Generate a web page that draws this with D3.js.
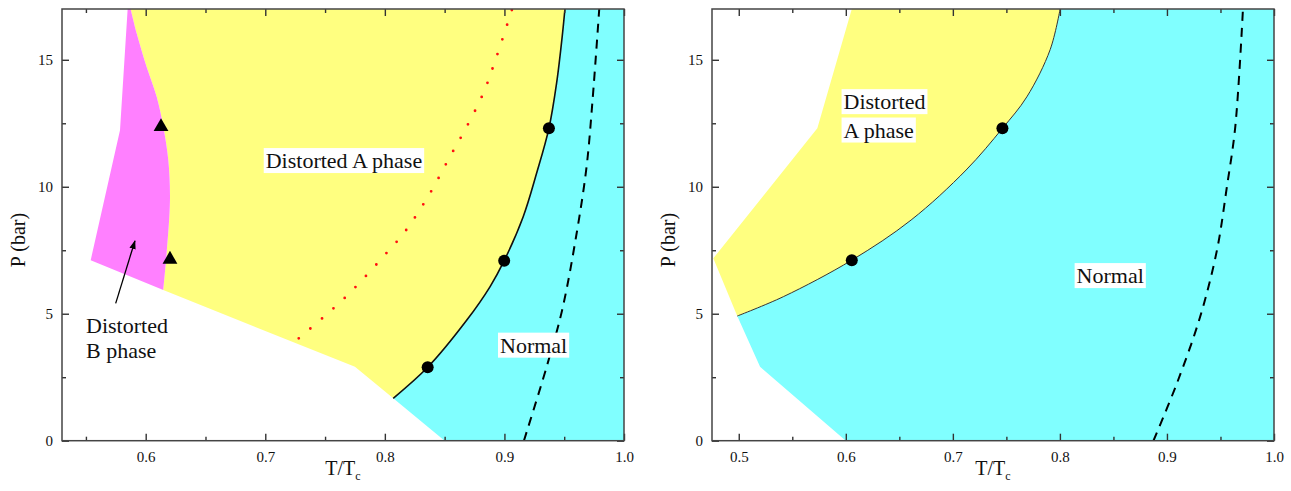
<!DOCTYPE html>
<html>
<head>
<meta charset="utf-8">
<script src="https://cdn.jsdelivr.net/npm/d3@7"></script>
<style>
  body { margin: 0; background: #fff; }
  text { font-family: "Liberation Serif", "Times New Roman", serif; fill: #111; }
</style>
</head>
<body>
<div id="chart"></div>
<script>
// ---- data (T/Tc, P in bar) ----
// left panel
var pinkLeftEdge = [[0.6147, 5.93], [0.554, 7.11], [0.5785, 12.23], [0.5849, 17]]
var pinkYellowBoundary = [[0.6147, 5.93], [0.6175, 7.38], [0.6203, 9.48], [0.6189, 11.05], [0.6147, 12.36],
                          [0.6092, 13.54], [0.6008, 14.72], [0.5925, 16.04], [0.5874, 17]]
var yellowBottomEdge = [[0.6147, 5.93], [0.775, 2.91], [0.807, 1.67]]
var transitionLeft = [[0.807, 1.67], [0.8358, 2.89], [0.8684, 4.74], [0.8879, 6.06], [0.8998, 7.09],
                      [0.9157, 8.82], [0.9269, 10.53], [0.9372, 12.3], [0.9436, 14.07], [0.9486, 16.04], [0.9506, 17]]
var redDotted = [[0.728, 4.03], [0.7476, 4.82], [0.7666, 5.63], [0.7848, 6.52], [0.8023, 7.44], [0.8168, 8.23],
                 [0.8377, 9.74], [0.8544, 11.18], [0.8684, 12.36], [0.8823, 13.68], [0.8934, 15.12], [0.9065, 17]]
var dashedLeft = [[0.9163, 0], [0.9353, 2.91], [0.9483, 5.15], [0.9604, 8.17], [0.9687, 10.79], [0.9737, 13.41], [0.9793, 17]]
var trianglesLeft = [[0.6128, 12.36], [0.6203, 7.14]]
var circlesLeft = [[0.8358, 2.89], [0.8998, 7.09], [0.9372, 12.3]]

// right panel
var yellowLeftEdge = [[0.4986, 4.91], [0.4762, 7.18], [0.5734, 12.3], [0.6056, 17]]
var transitionRight = [[0.4986, 4.91], [0.5416, 5.67], [0.6056, 7.11], [0.661, 8.69], [0.7124, 10.66],
                       [0.7463, 12.3], [0.7691, 13.54], [0.7909, 15.4], [0.8002, 17]]
var dashedRight = [[0.8874, 0], [0.9093, 2.26], [0.931, 4.88], [0.9467, 7.5], [0.956, 10.0], [0.9638, 12.35], [0.971, 17]]
var circlesRight = [[0.6056, 7.11], [0.7463, 12.3]]

// axes
var xDomainLeft = [0.53, 1.0]
var xDomainRight = [0.475, 1.0]
var yDomain = [0, 17]
var xTicksLeft = [0.6, 0.7, 0.8, 0.9, 1.0]
var xMinorLeft = [0.55, 0.65, 0.75, 0.85, 0.95]
var xTicksRight = [0.5, 0.6, 0.7, 0.8, 0.9, 1.0]
var xMinorRight = [0.55, 0.65, 0.75, 0.85, 0.95]
var yTicks = [0, 5, 10, 15]
var yMinor = [2.5, 7.5, 12.5]

var width = 1291, height = 491
var plotTop = 9, plotBottom = 440.7

var svg = d3.select("#chart").append("svg")
    .attr("width", width)
    .attr("height", height)

var y = d3.scaleLinear().domain(yDomain).range([plotBottom, plotTop])

function panel(left, right, xDomain, xTicks, xMinor) {
  var x = d3.scaleLinear().domain(xDomain).range([left, right])
  var g = svg.append("g")
  var clipId = "clip" + left
  g.append("clipPath").attr("id", clipId)
    .append("rect").attr("x", left).attr("y", plotTop).attr("width", right - left).attr("height", plotBottom - plotTop)
  var plot = g.append("g").attr("clip-path", "url(#" + clipId + ")")
  return {x: x, g: g, plot: plot, left: left, right: right, xTicks: xTicks, xMinor: xMinor}
}

// joins point lists into one closed path, some parts smooth, some straight
function region(p, parts) {
  var smooth = d3.line().x(d => p.x(d[0])).y(d => y(d[1])).curve(d3.curveCatmullRom)
  var straight = d3.line().x(d => p.x(d[0])).y(d => y(d[1]))
  var d = parts.map(function(part, i) {
    var s = (part.smooth ? smooth : straight)(part.pts)
    return i === 0 ? s : "L" + s.slice(1)
  }).join("")
  return d + "Z"
}

function drawAxes(p) {
  var fmt = d3.format(".1f")
  p.g.append("g").attr("transform", "translate(0," + plotBottom + ")")
    .call(d3.axisBottom(p.x).tickValues(p.xTicks).tickSize(-7).tickPadding(11).tickFormat(fmt))
  p.g.append("g").attr("transform", "translate(0," + plotBottom + ")")
    .call(d3.axisBottom(p.x).tickValues(p.xMinor).tickSize(-4).tickFormat(""))
  p.g.append("g").attr("transform", "translate(0," + plotTop + ")")
    .call(d3.axisTop(p.x).tickValues(p.xTicks).tickSize(-7).tickFormat(""))
  p.g.append("g").attr("transform", "translate(0," + plotTop + ")")
    .call(d3.axisTop(p.x).tickValues(p.xMinor).tickSize(-4).tickFormat(""))
  p.g.append("g").attr("transform", "translate(" + p.left + ",0)")
    .call(d3.axisLeft(y).tickValues(yTicks).tickSize(-7).tickPadding(9))
  p.g.append("g").attr("transform", "translate(" + p.left + ",0)")
    .call(d3.axisLeft(y).tickValues(yMinor).tickSize(-4).tickFormat(""))
  p.g.append("g").attr("transform", "translate(" + p.right + ",0)")
    .call(d3.axisRight(y).tickValues(yTicks).tickSize(-7).tickFormat(""))
  p.g.append("g").attr("transform", "translate(" + p.right + ",0)")
    .call(d3.axisRight(y).tickValues(yMinor).tickSize(-4).tickFormat(""))
  p.g.selectAll(".domain").remove()
  p.g.selectAll(".tick line").attr("stroke", "#333").attr("stroke-width", 1.4)
  p.g.selectAll(".tick text").style("font-family", "Liberation Serif").style("font-size", "15px").attr("fill", "#111")

  p.g.append("rect")
    .attr("x", p.left).attr("y", plotTop).attr("width", p.right - p.left).attr("height", plotBottom - plotTop)
    .attr("fill", "none").attr("stroke", "#444").attr("stroke-width", 1.5)

  // axis titles
  var xt = p.g.append("text")
    .attr("x", (p.left + p.right) / 2).attr("y", 475)
    .attr("text-anchor", "middle").style("font-size", "20px")
  xt.append("tspan").text("T/T")
  xt.append("tspan").attr("dy", 5).style("font-size", "12px").text("c")
  p.g.append("text")
    .attr("transform", "translate(" + (p.left - 37) + ",240) rotate(-90)")
    .attr("text-anchor", "middle").style("font-size", "20px")
    .text("P (bar)")
}

function boxedLabel(p, lines, tx, ty, anchor, size, lineGap) {
  lines.forEach(function(t, i) {
    var grp = p.g.append("g")
    var txt = grp.append("text")
      .attr("x", p.x(tx)).attr("y", y(ty) + i * lineGap)
      .attr("dy", "0.35em")
      .attr("text-anchor", anchor)
      .style("font-size", size + "px")
      .text(t)
    var b = txt.node().getBBox()
    grp.insert("rect", "text")
      .attr("x", b.x - 2).attr("y", b.y).attr("width", b.width + 4).attr("height", b.height)
      .attr("fill", "#fff")
  })
}

function curveLine(p, pts) {
  return d3.line().x(d => p.x(d[0])).y(d => y(d[1])).curve(d3.curveCatmullRom)(pts)
}

// ---------------- left panel ----------------
var L = panel(62, 624, xDomainLeft, xTicksLeft, xMinorLeft)

// cyan (normal)
L.plot.append("path")
  .attr("d", region(L, [
    {pts: transitionLeft, smooth: true},
    {pts: [[1.0, 17], [1.0, 0], [0.85, 0]], smooth: false}
  ]))
  .attr("fill", "#80ffff")

// yellow (distorted A)
L.plot.append("path")
  .attr("d", region(L, [
    {pts: yellowBottomEdge, smooth: false},
    {pts: transitionLeft, smooth: true},
    {pts: pinkYellowBoundary.slice().reverse(), smooth: true}
  ]))
  .attr("fill", "#ffff80")

// pink (distorted B)
L.plot.append("path")
  .attr("d", region(L, [
    {pts: pinkLeftEdge, smooth: false},
    {pts: pinkYellowBoundary.slice().reverse(), smooth: true}
  ]))
  .attr("fill", "#ff80ff")

L.plot.append("path").attr("d", curveLine(L, transitionLeft))
  .attr("fill", "none").attr("stroke", "#111").attr("stroke-width", 1.6)

L.plot.append("path").attr("d", curveLine(L, redDotted))
  .attr("fill", "none").attr("stroke", "#ff1010").attr("stroke-width", 2.8)
  .attr("stroke-linecap", "round").attr("stroke-dasharray", "0 15.3")

L.plot.append("path").attr("d", curveLine(L, dashedLeft))
  .attr("fill", "none").attr("stroke", "#000").attr("stroke-width", 2)
  .attr("stroke-dasharray", "9 7")

L.plot.selectAll(".tri")
  .data(trianglesLeft)
  .enter()
  .append("path")
  .attr("d", d3.symbol().type(d3.symbolTriangle).size(95))
  .attr("transform", d => "translate(" + L.x(d[0]) + "," + y(d[1]) + ")")
  .attr("fill", "#000")

L.plot.selectAll(".dot")
  .data(circlesLeft)
  .enter()
  .append("circle")
  .attr("cx", d => L.x(d[0])).attr("cy", d => y(d[1])).attr("r", 6)
  .attr("fill", "#000")

// arrow to the B phase
svg.append("defs").append("marker")
  .attr("id", "arrowhead").attr("viewBox", "0 0 10 10")
  .attr("refX", 9).attr("refY", 5)
  .attr("markerWidth", 7).attr("markerHeight", 7)
  .attr("orient", "auto")
  .append("path").attr("d", "M0,1.5L10,5L0,8.5Z").attr("fill", "#000")

L.g.append("line")
  .attr("x1", L.x(0.5749)).attr("y1", y(5.41))
  .attr("x2", L.x(0.591)).attr("y2", y(7.87))
  .attr("stroke", "#000").attr("stroke-width", 1.3)
  .attr("marker-end", "url(#arrowhead)")

drawAxes(L)

boxedLabel(L, ["Distorted A phase"], 0.7658, 11.04, "middle", 22, 0)
boxedLabel(L, ["Normal"], 0.9244, 3.77, "middle", 22, 0)
L.g.append("text").attr("x", L.x(0.5501)).attr("y", y(4.23)).style("font-size", "22px").text("Distorted")
L.g.append("text").attr("x", L.x(0.5501)).attr("y", y(3.24)).style("font-size", "22px").text("B phase")

// ---------------- right panel ----------------
var R = panel(712, 1274, xDomainRight, xTicksRight, xMinorRight)

R.plot.append("path")
  .attr("d", region(R, [
    {pts: transitionRight, smooth: true},
    {pts: [[1.0, 17], [1.0, 0], [0.6, 0], [0.5199, 2.91]], smooth: false}
  ]))
  .attr("fill", "#80ffff")

R.plot.append("path")
  .attr("d", region(R, [
    {pts: yellowLeftEdge, smooth: false},
    {pts: transitionRight.slice().reverse(), smooth: true}
  ]))
  .attr("fill", "#ffff80")

R.plot.append("path").attr("d", curveLine(R, transitionRight))
  .attr("fill", "none").attr("stroke", "#333").attr("stroke-width", 1)

R.plot.append("path").attr("d", curveLine(R, dashedRight))
  .attr("fill", "none").attr("stroke", "#000").attr("stroke-width", 2)
  .attr("stroke-dasharray", "9 7")

R.plot.selectAll(".dot")
  .data(circlesRight)
  .enter()
  .append("circle")
  .attr("cx", d => R.x(d[0])).attr("cy", d => y(d[1])).attr("r", 6)
  .attr("fill", "#000")

drawAxes(R)

boxedLabel(R, ["Distorted", "A phase"], 0.5979, 13.36, "start", 22, 28.4)
boxedLabel(R, ["Normal"], 0.847, 6.51, "middle", 22, 0)
</script>
</body>
</html>
